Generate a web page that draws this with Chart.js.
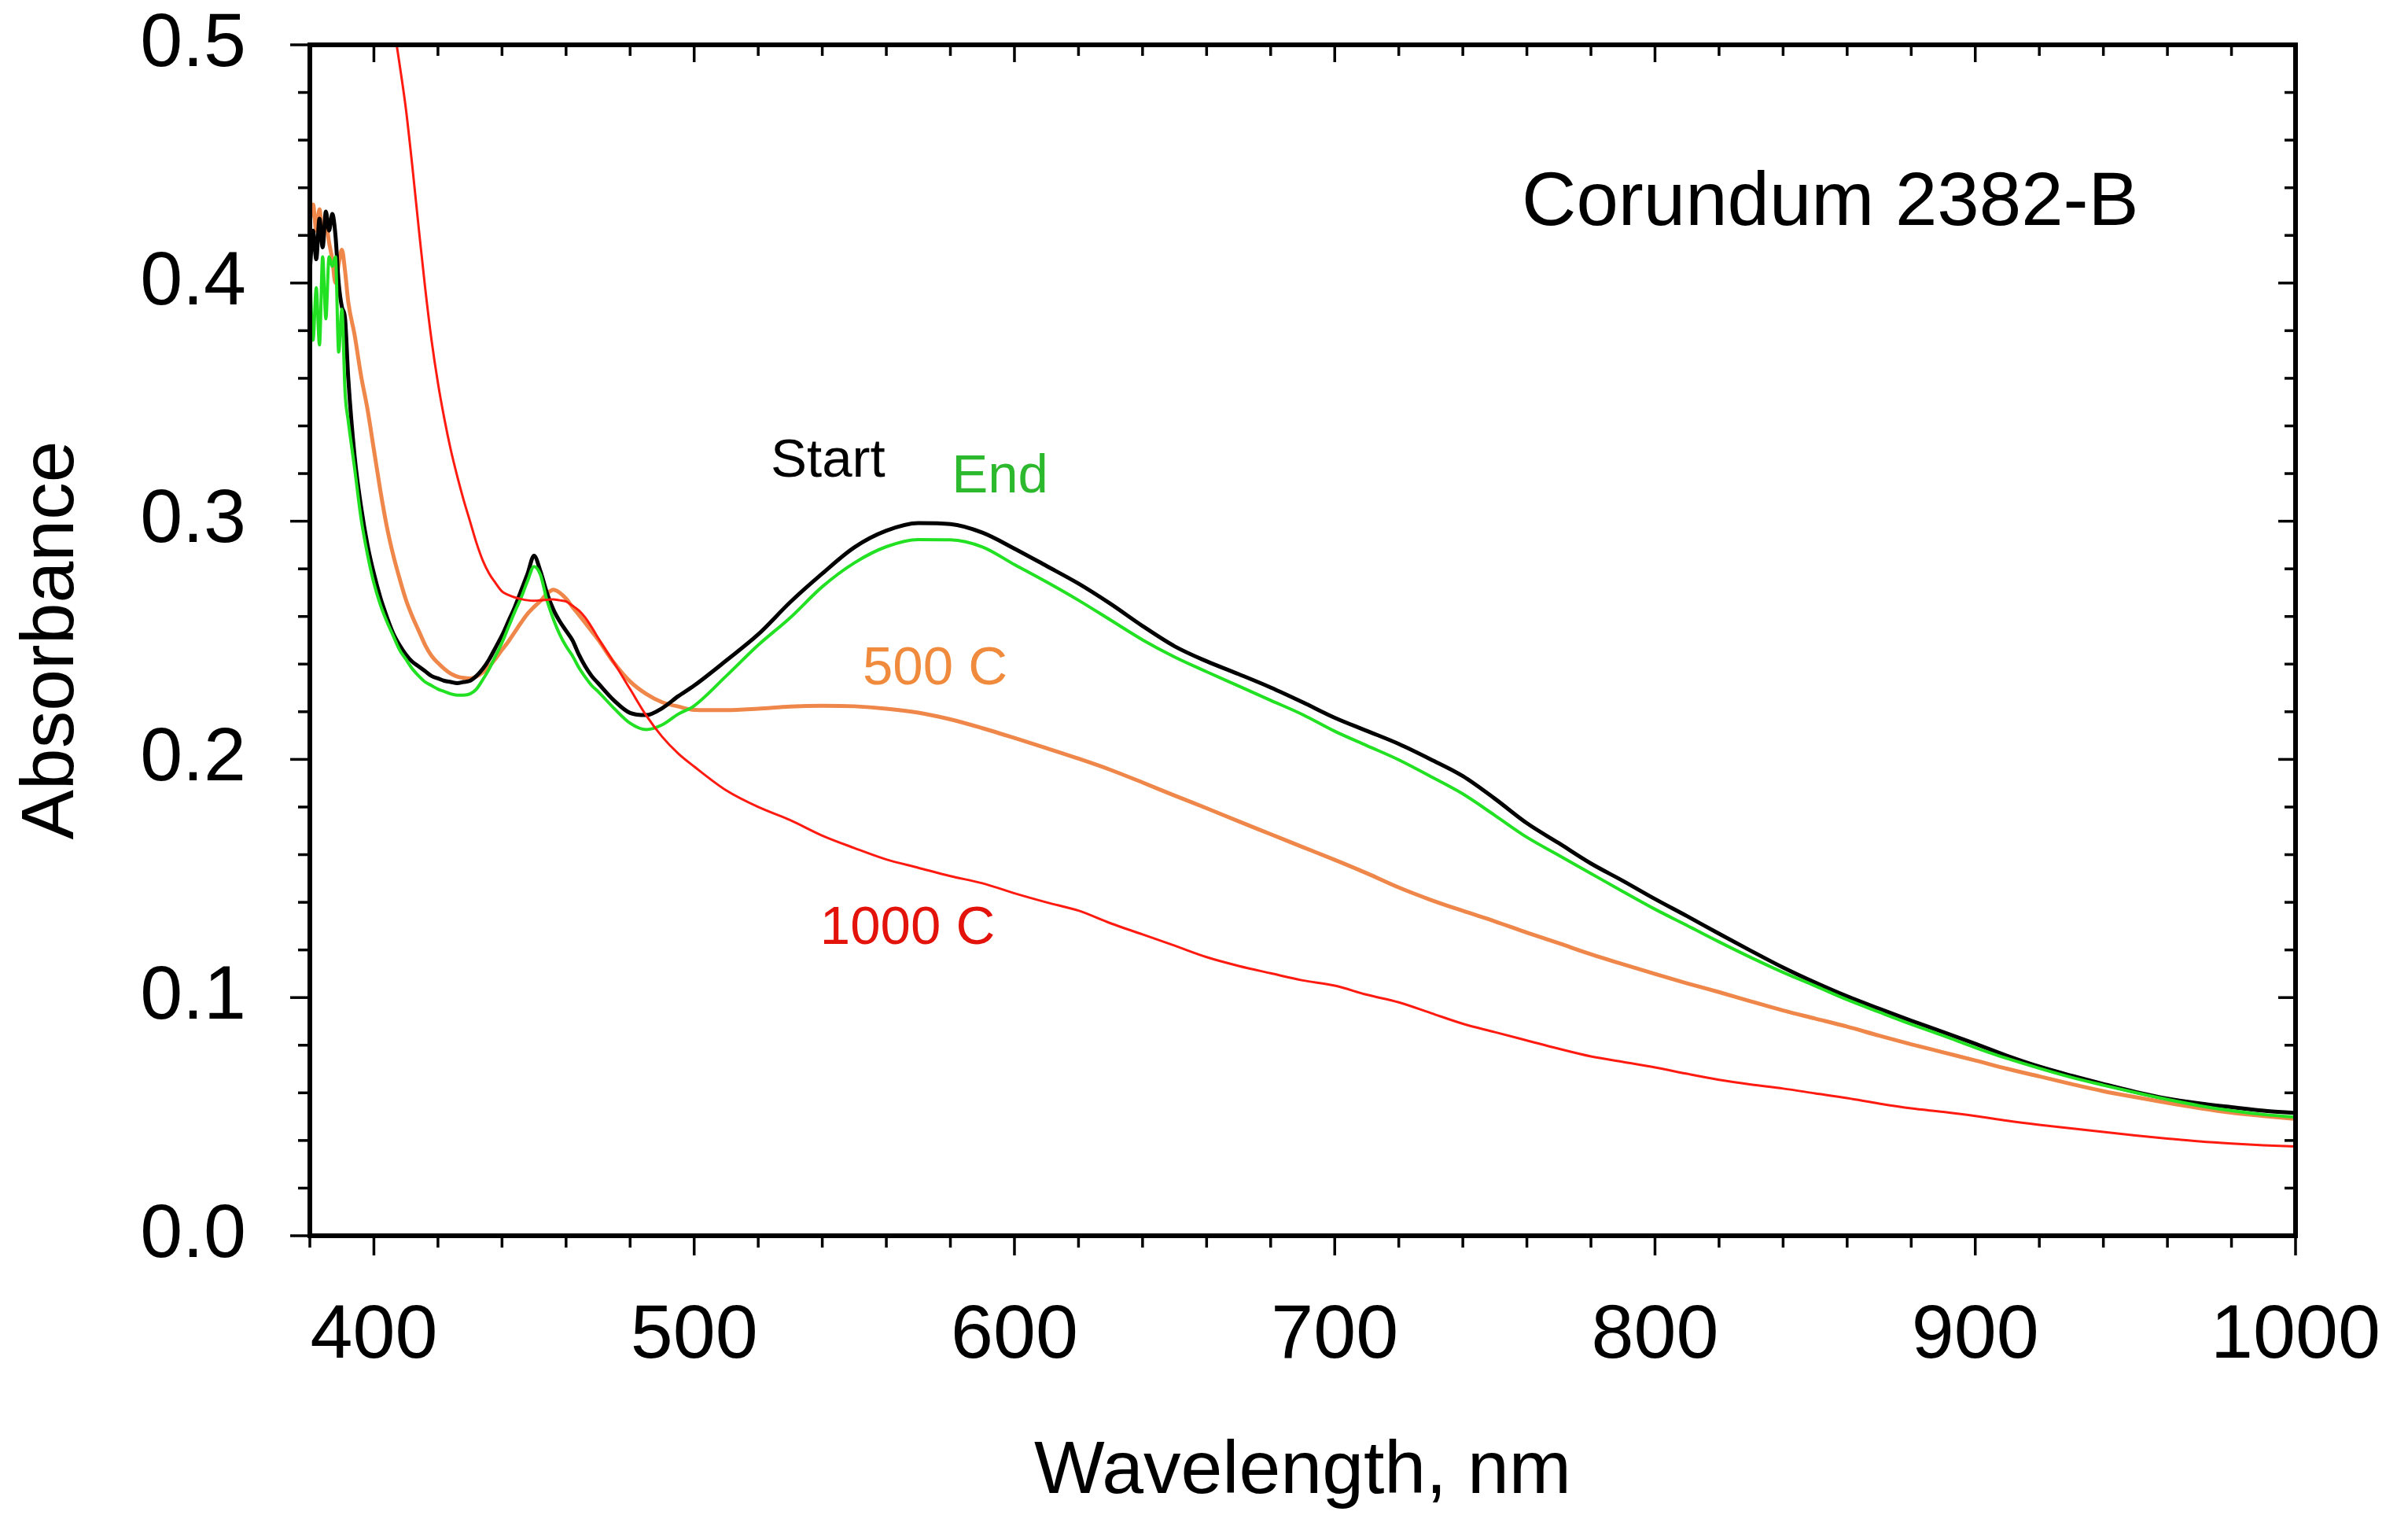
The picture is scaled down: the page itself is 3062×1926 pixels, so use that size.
<!DOCTYPE html>
<html>
<head>
<meta charset="utf-8">
<script src="https://cdn.jsdelivr.net/npm/chart.js@4.4.1/dist/chart.umd.min.js"></script>
<style>
  html, body { margin: 0; padding: 0; background: #fff; }
  #wrap { width: 3062px; height: 1926px; position: relative; }
</style>
</head>
<body>
<div id="wrap"><canvas id="chart"></canvas></div>
<script>
// wavelength grid, nm (dense where the spectra wiggle)
const wavelength = [
  380, 381, 382, 383, 384, 385, 386, 387, 388, 389, 390, 391, 392,
  394, 396, 398, 400, 402, 404, 406, 408, 410, 412, 414, 416, 418, 420,
  422, 424, 426, 428, 430, 432, 434, 436, 438, 440, 442, 444, 446, 448,
  450, 452, 454, 456, 458, 460, 462, 464, 466, 468, 470,
  475, 480, 485, 490, 495, 500,
  510, 520, 530, 540, 550, 560, 570, 580, 590, 600,
  610, 620, 630, 640, 650, 660, 670, 680, 690, 700,
  710, 720, 730, 740, 750, 760, 770, 780, 790, 800,
  810, 820, 830, 840, 850, 860, 870, 880, 890, 900,
  910, 920, 930, 940, 950, 960, 970, 980, 990, 1000
];

const startAbs = [
  0.405, 0.422, 0.410, 0.427, 0.415, 0.430, 0.422, 0.429, 0.420, 0.400, 0.390, 0.385, 0.360,
  0.327, 0.306, 0.290, 0.278, 0.268, 0.260, 0.253, 0.248, 0.244, 0.241, 0.239, 0.237, 0.235, 0.234,
  0.233, 0.2325, 0.232, 0.2325, 0.233, 0.235, 0.238, 0.242, 0.247, 0.252, 0.258, 0.264, 0.271, 0.278,
  0.2855, 0.279, 0.270, 0.263, 0.258, 0.254, 0.250, 0.244, 0.239, 0.235, 0.232,
  0.2247, 0.2195, 0.2186, 0.2215, 0.2265, 0.231,
  0.2415, 0.2525, 0.266, 0.278, 0.289, 0.296, 0.2992, 0.2988, 0.2952, 0.2885,
  0.2812, 0.2738, 0.2653, 0.256, 0.2475, 0.2412, 0.2358, 0.2302, 0.224, 0.2175,
  0.212, 0.2065, 0.200, 0.193, 0.1835, 0.1732, 0.1648, 0.1563, 0.149, 0.1414,
  0.1342, 0.1268, 0.1196, 0.1126, 0.1063, 0.1005, 0.0953, 0.0903, 0.0855, 0.0806,
  0.0755, 0.071, 0.0672, 0.0637, 0.0604, 0.0576, 0.0556, 0.054, 0.0525, 0.0515
];

const endAbs = [
  0.405, 0.376, 0.398, 0.374, 0.411, 0.385, 0.411, 0.407, 0.411, 0.371, 0.389, 0.354, 0.342,
  0.322, 0.301, 0.286, 0.274, 0.265, 0.258, 0.252, 0.246, 0.242, 0.238, 0.235, 0.2325, 0.231, 0.2295,
  0.2285, 0.2275, 0.227, 0.227, 0.2275, 0.2295, 0.2335, 0.238, 0.2435, 0.249, 0.2555, 0.262, 0.268, 0.275,
  0.281, 0.2775, 0.267, 0.259, 0.2525, 0.2475, 0.2435, 0.2385, 0.2345, 0.231, 0.2285,
  0.2214, 0.2152, 0.2125, 0.2145, 0.219, 0.2225,
  0.235, 0.248, 0.2595, 0.2725, 0.2825, 0.2893, 0.2923, 0.2922, 0.2892, 0.2818,
  0.2745, 0.2668, 0.2585, 0.2502, 0.243, 0.2368, 0.2308, 0.2248, 0.2188, 0.2118,
  0.2058, 0.1998, 0.1928, 0.1855, 0.1765, 0.1673, 0.1597, 0.1521, 0.1445, 0.1371,
  0.1303, 0.1234, 0.1168, 0.1106, 0.1049, 0.0991, 0.0939, 0.0888, 0.084, 0.079,
  0.0744, 0.0703, 0.0665, 0.0632, 0.0601, 0.0572, 0.0546, 0.0525, 0.0509, 0.0498
];

const abs500C = [
  0.426, 0.433, 0.422, 0.431, 0.420, 0.425, 0.417, 0.410, 0.400, 0.408, 0.414, 0.405, 0.392,
  0.378, 0.361, 0.347, 0.330, 0.313, 0.298, 0.286, 0.276, 0.267, 0.260, 0.254, 0.248, 0.2435, 0.2405,
  0.238, 0.236, 0.2348, 0.2342, 0.234, 0.2348, 0.2365, 0.239, 0.2423, 0.246, 0.2495, 0.2535, 0.2575, 0.2612,
  0.264, 0.2665, 0.2695, 0.2712, 0.270, 0.2675, 0.264, 0.2607, 0.2573, 0.2538, 0.2503,
  0.2405, 0.2327, 0.2275, 0.224, 0.2222, 0.2208,
  0.2207, 0.2213, 0.2222, 0.2225, 0.2223, 0.2213, 0.2196, 0.2168, 0.2131, 0.209,
  0.2047, 0.2003, 0.1956, 0.1903, 0.1848, 0.1795, 0.174, 0.1686, 0.1632, 0.1578,
  0.1522, 0.1462, 0.141, 0.1364, 0.132, 0.1273, 0.1228, 0.1182, 0.114, 0.1099,
  0.106, 0.1023, 0.0984, 0.0946, 0.0912, 0.0878, 0.084, 0.0804, 0.077, 0.0736,
  0.0701, 0.0669, 0.0637, 0.0607, 0.0582, 0.0558, 0.0536, 0.0517, 0.0503, 0.049
];

// 1000 C runs off the top of the plot below ~407 nm
const abs1000C = [
  null, null, null, null, null, null, null, null, null, null, null, null, null,
  null, null, null, null, null, 0.532, 0.510, 0.492, 0.473, 0.449, 0.423, 0.398, 0.376, 0.358,
  0.343, 0.330, 0.319, 0.309, 0.300, 0.291, 0.2835, 0.278, 0.274, 0.2705, 0.269, 0.268, 0.2673, 0.2668,
  0.2666, 0.2668, 0.267, 0.2672, 0.2668, 0.2663, 0.2645, 0.2625, 0.2595, 0.2555, 0.251,
  0.2405, 0.2295, 0.2185, 0.2095, 0.2025, 0.197,
  0.187, 0.180, 0.1745, 0.168, 0.1628, 0.158, 0.1545, 0.151, 0.148, 0.1438,
  0.140, 0.1365, 0.1312, 0.1265, 0.1218, 0.117, 0.1133, 0.1102, 0.1072, 0.105,
  0.1012, 0.098, 0.0935, 0.089, 0.0855, 0.082, 0.0785, 0.0753, 0.073, 0.0707,
  0.068, 0.0655, 0.0635, 0.0618, 0.0598, 0.0578, 0.0555, 0.0535, 0.052, 0.0503,
  0.0483, 0.0466, 0.0451, 0.0436, 0.0421, 0.0408, 0.0396, 0.0387, 0.038, 0.0375
];

const xTickLabels = [400, 500, 600, 700, 800, 900, 1000];
const yTickLabels = ['0.0', '0.1', '0.2', '0.3', '0.4', '0.5'];

const FONT = "'Liberation Sans', Arial, sans-serif";

function pts(vals) {
  return wavelength.map((w, i) => ({ x: w, y: vals[i] }));
}

// text written inside the plot, placed in data units
const notes = [
  { text: 'Corundum 2382-B', x: 758.4, y: 0.433, size: 96, color: '#000000' },
  { text: 'Start', x: 523.9, y: 0.3251, size: 69, color: '#000000' },
  { text: 'End', x: 580.4, y: 0.3185, size: 69, color: '#2db92d' },
  { text: '500 C', x: 552.6, y: 0.2379, size: 69, color: '#f08a3c' },
  { text: '1000 C', x: 539.3, y: 0.1288, size: 69, color: '#e3120b' }
];

// box frame + ticks: out on bottom/left, in on top/right
const frameTicks = {
  id: 'frameTicks',
  afterDraw(chart) {
    const { ctx, chartArea: a, scales: { x, y } } = chart;
    ctx.save();

    ctx.textAlign = 'left';
    ctx.textBaseline = 'middle';
    notes.forEach(n => {
      ctx.font = n.size + 'px ' + FONT;
      ctx.fillStyle = n.color;
      ctx.fillText(n.text, x.getPixelForValue(n.x), y.getPixelForValue(n.y));
    });

    ctx.strokeStyle = '#000';
    ctx.lineWidth = 3.5;
    const seg = (x1, y1, x2, y2) => {
      ctx.beginPath(); ctx.moveTo(x1, y1); ctx.lineTo(x2, y2); ctx.stroke();
    };
    x.ticks.forEach(t => {
      const px = x.getPixelForValue(t.value);
      const major = xTickLabels.includes(t.value);
      seg(px, a.bottom, px, a.bottom + (major ? 25 : 15));
      seg(px, a.top, px, a.top + (major ? 22 : 14));
    });
    y.ticks.forEach(t => {
      const py = y.getPixelForValue(t.value);
      const major = Math.round(t.value * 100) % 10 === 0;
      seg(a.left - (major ? 25 : 15), py, a.left, py);
      seg(a.right - (major ? 22 : 14), py, a.right, py);
    });
    ctx.lineWidth = 6;
    ctx.strokeRect(a.left, a.top, a.right - a.left, a.bottom - a.top);
    ctx.restore();
  }
};

Chart.defaults.font.family = FONT;
Chart.defaults.color = '#000';

new Chart(document.getElementById('chart'), {
  type: 'line',
  data: {
    datasets: [
      { label: '1000 C', data: pts(abs1000C), borderColor: '#ff1a10', borderWidth: 3, order: 0 },
      { label: 'End', data: pts(endAbs), borderColor: '#22e022', borderWidth: 4, order: 1 },
      { label: 'Start', data: pts(startAbs), borderColor: '#000000', borderWidth: 5, order: 2 },
      { label: '500 C', data: pts(abs500C), borderColor: '#f0874a', borderWidth: 5, order: 3 }
    ]
  },
  options: {
    responsive: true,
    maintainAspectRatio: false,
    devicePixelRatio: 1,
    animation: false,
    elements: {
      point: { radius: 0 },
      line: { cubicInterpolationMode: 'monotone', fill: false }
    },
    layout: { padding: { left: 12, top: 57, right: 143, bottom: 0 } },
    plugins: {
      legend: { display: false },
      tooltip: { enabled: false }
    },
    scales: {
      x: {
        type: 'linear',
        min: 380,
        max: 1000,
        grid: { display: false, drawTicks: false },
        border: { display: false },
        ticks: {
          stepSize: 20,
          autoSkip: false,
          maxRotation: 0,
          padding: 80,
          font: { size: 97, lineHeight: 1 },
          callback: v => (xTickLabels.includes(v) ? String(v) : '')
        },
        title: {
          display: true,
          text: 'Wavelength, nm',
          font: { size: 95, lineHeight: 1.15 },
          padding: 0
        },
        afterFit: s => { s.height = 355; s.paddingLeft = 0; s.paddingRight = 0; }
      },
      y: {
        min: 0,
        max: 0.5,
        grid: { display: false, drawTicks: false },
        border: { display: false },
        ticks: {
          stepSize: 0.02,
          autoSkip: false,
          padding: 81,
          font: { size: 97, lineHeight: 1 },
          callback: v => {
            const k = Math.round(v * 100);
            return k % 10 === 0 ? yTickLabels[k / 10] : '';
          }
        },
        title: {
          display: true,
          text: 'Absorbance',
          font: { size: 95, lineHeight: 1.15 },
          padding: 0
        },
        afterFit: s => { s.width = 382; s.paddingTop = 0; s.paddingBottom = 0; }
      }
    }
  },
  plugins: [frameTicks]
});
</script>
</body>
</html>
